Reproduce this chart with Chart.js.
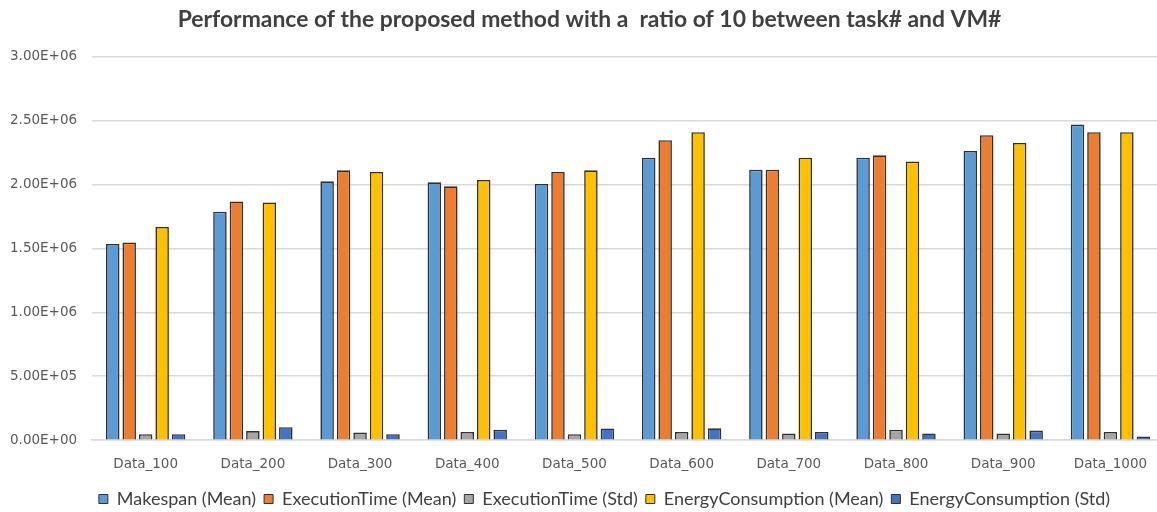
<!DOCTYPE html>
<html>
<head>
<meta charset="utf-8">
<script src="https://cdn.jsdelivr.net/npm/chart.js@4"></script>
<style>
  html, body { margin: 0; padding: 0; background: #ffffff; overflow: hidden; }
  #wrap { width: 1157px; height: 512px; overflow: hidden; }
</style>
</head>
<body>
<div id="wrap"><canvas id="chart" width="1172" height="512"></canvas></div>
<script>
// Dataset sizes on the x axis
const categories = ['Data_100', 'Data_200', 'Data_300', 'Data_400', 'Data_500',
                    'Data_600', 'Data_700', 'Data_800', 'Data_900', 'Data_1000'];

// Measured results per dataset size
const makespanMean      = [1534000, 1786000, 2024000, 2016000, 2003000, 2209000, 2115000, 2209000, 2261000, 2468000];
const executionMean     = [1545000, 1867000, 2110000, 1985000, 2097000, 2345000, 2115000, 2227000, 2384000, 2408000];
const executionStd      = [  47000,   71000,   60000,   65000,   47000,   64000,   53000,   82000,   53000,   64000];
const energyMean        = [1668000, 1859000, 2097000, 2035000, 2110000, 2408000, 2209000, 2178000, 2324000, 2408000];
const energyStd         = [  47000,  102000,   47000,   81000,   92000,   93000,   64000,   53000,   75000,   28000];

const seriesNames = ['Makespan (Mean)', 'ExecutionTime (Mean)', 'ExecutionTime (Std)',
                     'EnergyConsumption (Mean)', 'EnergyConsumption (Std)'];
const seriesValues = [makespanMean, executionMean, executionStd, energyMean, energyStd];
const seriesColors = ['#5B9BD5', '#ED7D31', '#A5A5A5', '#FFC000', '#4472C4'];

const titleText = 'Performance of the proposed method with a  ratio of 10 between task# and VM#';

// Y ticks in spreadsheet-style scientific notation, e.g. 2.50E+06
function sci(v) {
  const parts = Number(v).toExponential(2).split('e');
  const sign = parts[1][0];
  const exp = parts[1].slice(1).padStart(2, '0');
  return parts[0] + 'E' + sign + exp;
}

// Nudge the title and legend boxes sideways after layout
const boxShift = {
  id: 'boxShift',
  afterLayout(chart, args, opts) {
    const lg = chart.legend;
    if (lg) {
      lg.left += opts.legendDx;
      lg.right += opts.legendDx;
      if (lg.adjustHitBoxes) lg.adjustHitBoxes();
    }
    const tb = chart.titleBlock;
    if (tb) {
      tb.left += opts.titleDx;
      tb.right += opts.titleDx;
    }
  }
};

const axisFont = '"DejaVu Sans", sans-serif';
const textFont = 'Lato, "Open Sans", sans-serif';

new Chart(document.getElementById('chart'), {
  type: 'bar',
  plugins: [boxShift],
  data: {
    labels: categories,
    datasets: seriesNames.map((name, i) => ({
      label: name,
      data: seriesValues[i],
      backgroundColor: seriesColors[i],
      borderColor: '#303030',
      borderWidth: 1.6,
      categoryPercentage: 0.768,
      barPercentage: 0.82
    }))
  },
  options: {
    responsive: false,
    animation: false,
    layout: { padding: { left: -5, right: 8, top: 0, bottom: -6 } },
    plugins: {
      boxShift: { legendDx: 25, titleDx: 10 },
      title: {
        display: true,
        text: titleText,
        color: '#404040',
        font: { family: textFont, size: 22.9, weight: 'bold' },
        padding: { top: 6, bottom: 23 }
      },
      legend: {
        position: 'bottom',
        labels: {
          color: '#404040',
          font: { family: textFont, size: 18 },
          boxWidth: 9,
          boxHeight: 9,
          padding: 8,
          generateLabels(chart) {
            return chart.data.datasets.map((ds, i) => ({
              text: ds.label,
              fillStyle: ds.backgroundColor,
              strokeStyle: '#303030',
              lineWidth: 1,
              fontColor: '#404040',
              datasetIndex: i
            }));
          }
        }
      },
      tooltip: { enabled: false }
    },
    scales: {
      x: {
        grid: { display: false, drawTicks: false },
        border: { display: true, color: '#d9d9d9', width: 1.5 },
        ticks: { color: '#595959', font: { family: axisFont, size: 13.5 }, padding: 16 },
        afterFit(scale) { scale.height -= 6.4; }
      },
      y: {
        min: 0,
        max: 3000000,
        ticks: {
          stepSize: 500000,
          color: '#595959',
          font: { family: axisFont, size: 13.5 },
          padding: 15,
          callback: (v) => sci(v)
        },
        grid: { color: '#d9d9d9', lineWidth: 1.5, drawTicks: false },
        border: { display: false }
      }
    }
  }
});
</script>
</body>
</html>
